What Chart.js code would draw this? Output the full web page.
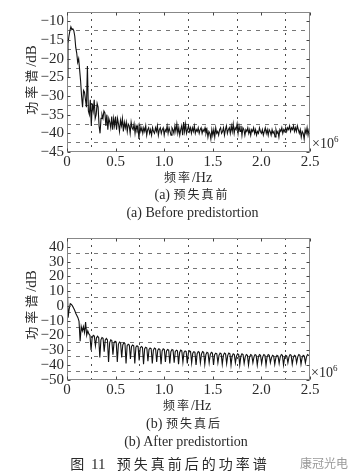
<!DOCTYPE html>
<html><head><meta charset="utf-8">
<script src="https://cdn.jsdelivr.net/npm/chart.js@4.4.1/dist/chart.umd.min.js"></script>
<style>
html,body{margin:0;padding:0;background:#fff;}
body{width:355px;height:476px;position:relative;overflow:hidden;font-family:'Liberation Serif','Noto Sans CJK SC',serif;color:#2a2a2a;}
canvas{position:absolute;left:0;}
.t{position:absolute;white-space:nowrap;line-height:16px;height:16px;transform:translateX(-50%);font-size:14px;}
.l{position:absolute;white-space:nowrap;line-height:16px;height:16px;font-size:14px;}
.cjk{font-family:'Noto Sans CJK SC',sans-serif;font-size:12px;letter-spacing:2px;}
.yt{position:absolute;white-space:nowrap;line-height:16px;transform:translate(-50%,-50%) rotate(-90deg);font-size:15px;}
.yt .cjk{font-size:13px;letter-spacing:3px;}
sup{font-size:9px;vertical-align:6px;line-height:0;}
.fig{font-size:15px;}
.fig .cjk{font-size:14px;letter-spacing:3px;}
.wm{position:absolute;font-family:'Noto Sans CJK SC',sans-serif;font-size:12px;color:#9a9a9a;line-height:16px;}
</style></head>
<body>
<canvas id="c1" width="355" height="230" style="top:0;width:355px;height:230px"></canvas>
<canvas id="c2" width="355" height="250" style="top:226px;width:355px;height:250px"></canvas>

<div class="l" style="left:312px;top:136px">×10<sup>6</sup></div>
<div class="t" style="left:188px;top:169px"><span class="cjk">频率</span>/Hz</div>
<div class="t" style="left:192px;top:186px">(a) <span class="cjk">预失真前</span></div>
<div class="t" style="left:192.5px;top:204.5px">(a) Before predistortion</div>
<div class="yt" style="left:31px;top:80px"><span class="cjk">功率谱</span>/dB</div>

<div class="l" style="left:311px;top:364.5px">×10<sup>6</sup></div>
<div class="t" style="left:187px;top:397px"><span class="cjk">频率</span>/Hz</div>
<div class="t" style="left:184px;top:415px">(b) <span class="cjk">预失真后</span></div>
<div class="t" style="left:186px;top:434px">(b) After predistortion</div>
<div class="yt" style="left:31px;top:305px"><span class="cjk">功率谱</span>/dB</div>
<div class="t fig" style="left:170px;top:455px"><span class="cjk">图</span> 11&nbsp;&nbsp;&nbsp;<span class="cjk">预失真前后的功率谱</span></div>
<div class="wm" style="left:300px;top:455px">康冠光电</div>

<script>
// ---------- data ----------
const xTickValues = [0, 0.5, 1.0, 1.5, 2.0, 2.5];
const xTickLabels = ['0', '0.5', '1.0', '1.5', '2.0', '2.5'];
const xGridValues = [0.25, 0.75, 1.25, 1.75, 2.25];

const topYTicks = [-45, -40, -35, -30, -25, -20, -15, -10];
const topYGrid = [-42.5, -37.5, -32.5, -27.5, -22.5, -17.5, -12.5];
const bottomYTicks = [-50, -40, -30, -20, -10, 0, 10, 20, 30, 40];
const bottomYGrid = [-44.5, -34.5, -24.5, -14.5, -4.5, 5.5, 15.5, 25.5, 35.5];

// (a) before predistortion: frequency bins every 0.01 MHz (x10^6 Hz)
const topFreqStep = 0.01;
const topPower = [
-25,-16,-14,-12.5,-11.5,-12.2,-12,-12.5,-14,-17,
-18.5,-21,-20,-23,-26,-30,-33,-28.5,-29,-31,
-33,-22,-34,-35,-31,-38,-32,-34,-31,-36,
-35,-32,-33,-38,-40,-36,-35,-36,-34,-34.5,
-38,-35,-39,-36,-37,-38.5,-35.5,-39,-36,-38,
-35.5,-39,-36,-37.5,-39.5,-36.5,-38,-36,-39.5,-37,
-38.5,-37,-39.5,-37.5,-38,-40,-37,-38.5,-39,-37.5,
-40,-38,-39,-38,-41.5,-38,-39.5,-38.5,-40,-38.5,
-39.5,-38,-40.5,-39,-38.5,-40,-39,-40.5,-38.5,-39.5,
-40,-38.5,-39.5,-38,-40.5,-39,-38.5,-40,-39,-38.5,
-40.5,-39,-39.5,-38,-40,-38.5,-39.5,-40.5,-38.5,-39,
-40,-38,-39.5,-37.5,-40,-38.5,-40.5,-39,-38,-40.5,
-37,-39.5,-37.5,-40,-39,-38,-39.5,-38.5,-40,-38.5,
-39.5,-38,-40,-39,-39.5,-38.5,-40,-39,-38.5,-40,
-39,-39.5,-38.5,-40,-39,-41,-39.5,-40,-41.5,-39,
-40.5,-39,-41,-38.5,-40,-39.5,-40.5,-39,-38.5,-40,
-39.5,-38.5,-40.5,-39,-38,-40,-39,-38.5,-40,-38,
-39.5,-37.5,-40,-38.5,-39,-37.5,-40,-38,-39.5,-38,
-40.5,-38.5,-39,-40.5,-39,-39.5,-38.5,-40,-39,-40.5,
-39,-39.5,-38.5,-40,-39,-40.5,-39.5,-40,-38.5,-39.5,
-40,-39,-40.5,-39.5,-38.5,-40,-39,-40.5,-39,-39.5,
-40.5,-39,-40,-39.5,-41,-39,-40,-39.5,-41,-39,
-39.5,-38.5,-40,-39,-39.5,-38.5,-39.5,-38.5,-39,-38,
-39.5,-38.5,-39,-38,-39.5,-38.5,-39.5,-38,-39,-40,
-39,-41,-39.5,-40,-41.5,-39,-40,-38.5,-40.5,-39,
-38
];

// (b) after predistortion: frequency bins every 0.01125 MHz (x10^6 Hz)
const bottomFreqStep = 0.01125;
const bottomPower = [
23,-8,-2,1.5,1,0,-1.5,-3,-5,-6.5,
-8,-10.5,-24,-14,-17,-14,-18,-11,-20,-17,
-19,-20,
-30,-21.5,-20,-20.5,  -27,-21.5,-20.5,-21.5,  -35,-23,-21.5,-22,  -31,-23,-22,-23,
-38,-25,-23,-23.5,  -33,-25,-24,-24.5,  -38,-26,-24.5,-25,  -35,-26.5,-25,-25.5,
-39,-27,-26,-26.5,  -36,-27.5,-26.5,-27,  -39,-28,-27,-27.5,  -37,-28.5,-27.5,-28,
-39.5,-29,-28,-28.5,  -37.5,-29.5,-28.5,-29,  -39,-30,-28.5,-29,  -38,-30,-29,-29.5,
-39.5,-30.5,-29,-29.5,  -38,-30.5,-29.5,-30,  -39,-31,-29.5,-30,  -38.5,-31,-30,-30.5,
-39.5,-31.5,-30,-30.5,  -38,-31.5,-30.5,-31,  -39,-32,-30.5,-31,  -38.5,-32,-31,-31.5,
-40,-32.5,-31,-31.5,  -38.5,-32.5,-31,-31.5,  -39.5,-33,-31.5,-32,  -38.5,-33,-31.5,-32,
-40,-33,-32,-32.5,  -38.5,-33.5,-32,-32.5,  -39.5,-33.5,-32,-32.5,  -39,-33.5,-32,-32.5,
-40,-34,-32.5,-33,  -38.5,-34,-32.5,-33,  -40,-34,-32.5,-33,  -39,-34.5,-33,-33.5,
-40,-34.5,-33,-33.5,  -38.5,-34.5,-33,-33.5,  -40,-34.5,-33,-33.5,  -39,-34.5,-33,-33.5,
-40,-34.5,-33,-33.5,  -38.5,-35,-33.5,-34,  -39.5,-35,-33.5,-34,  -39,-34.5,-33,-33.5,
-40,-35,-33.5,-34,  -38.5,-34.5,-33,-33.5,  -39.5,-35,-33.5,-34,  -38.5,-34.5,-33,-33.5,
-39.5,-35,-33.5,-34,  -38.5,-34.5,-33,-33.5,
-34
];

// ---------- chart helpers ----------
const FONT = "'Liberation Serif','Noto Sans CJK SC',serif";
const fmt = v => String(v).replace('-', '\u2212');

function toPoints(vals, step) {
  return vals.map((v, i) => ({ x: Math.round(i * step * 1e6) / 1e6, y: v }));
}

const framePlugin = {
  id: 'frame',
  afterDatasetsDraw(chart) {
    const { ctx, chartArea: a, scales } = chart;
    ctx.save();
    ctx.strokeStyle = '#888';
    ctx.lineWidth = 1;
    const L = Math.round(a.left) + 0.5, R = Math.round(a.right) - 0.5;
    const T = Math.round(a.top) + 0.5, B = Math.round(a.bottom) - 0.5;
    ctx.strokeRect(L, T, R - L, B - T);
    ctx.strokeStyle = '#444';
    ctx.beginPath();
    scales.x.ticks.forEach(t => {
      const p = Math.round(scales.x.getPixelForValue(t.value)) + 0.5;
      ctx.moveTo(p, B); ctx.lineTo(p, B - 3);
      ctx.moveTo(p, T); ctx.lineTo(p, T + 3);
    });
    scales.y.ticks.forEach(t => {
      const p = Math.round(scales.y.getPixelForValue(t.value)) + 0.5;
      ctx.moveTo(L, p); ctx.lineTo(L + 3, p);
      ctx.moveTo(R, p); ctx.lineTo(R - 3, p);
    });
    ctx.stroke();
    ctx.restore();
  }
};

function makeChart(id, vals, step, yMin, yMax, yTicks, yGrid, padTop, xHeight) {
  return new Chart(document.getElementById(id), {
    type: 'line',
    data: {
      datasets: [{
        data: toPoints(vals, step),
        borderColor: '#111',
        borderWidth: 1.1,
        pointRadius: 0,
        tension: 0,
        fill: false
      }]
    },
    options: {
      responsive: false,
      animation: false,
      events: [],
      layout: { padding: { left: 0, top: padTop, right: 45, bottom: 0 } },
      plugins: { legend: { display: false }, tooltip: { enabled: false }, title: { display: false } },
      scales: {
        x: {
          type: 'linear', position: 'bottom', min: 0, max: 2.5,
          afterBuildTicks: s => { s.ticks = xTickValues.map(v => ({ value: v })); },
          afterFit: s => { s.height = xHeight; },
          grid: { display: false, drawTicks: false },
          border: { display: false },
          ticks: {
            padding: 1, color: '#2a2a2a', maxRotation: 0, autoSkip: false,
            font: { family: FONT, size: 15 },
            callback: (v) => { const i = xTickValues.indexOf(v); return i >= 0 ? xTickLabels[i] : ''; }
          }
        },
        xg: {
          type: 'linear', position: 'bottom', min: 0, max: 2.5,
          afterBuildTicks: s => { s.ticks = xGridValues.map(v => ({ value: v })); },
          afterFit: s => { s.height = 0; },
          ticks: { display: false },
          grid: { color: '#4a4a4a', lineWidth: 1, drawTicks: false },
          border: { display: false, dash: [2, 5] }
        },
        y: {
          type: 'linear', position: 'left', min: yMin, max: yMax,
          afterBuildTicks: s => { s.ticks = yTicks.map(v => ({ value: v })); },
          afterFit: s => { s.width = 67; },
          grid: { display: false, drawTicks: false },
          border: { display: false },
          ticks: {
            padding: 3, color: '#2a2a2a', autoSkip: false,
            font: { family: FONT, size: 15 },
            callback: v => fmt(v)
          }
        },
        yg: {
          type: 'linear', position: 'left', min: yMin, max: yMax,
          afterBuildTicks: s => { s.ticks = yGrid.map(v => ({ value: v })); },
          afterFit: s => { s.width = 0; },
          ticks: { display: false },
          grid: { color: '#777', lineWidth: 1, drawTicks: false },
          border: { display: false, dash: [4, 5] }
        }
      }
    },
    plugins: [framePlugin]
  });
}

makeChart('c1', topPower, topFreqStep, -45, -7.5, topYTicks, topYGrid, 9, 78);
makeChart('c2', bottomPower, bottomFreqStep, -50, 46, bottomYTicks, bottomYGrid, 3.7, 96.3);
</script>
</body></html>
